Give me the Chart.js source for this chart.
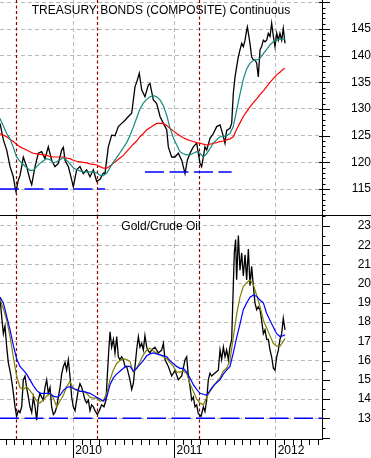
<!DOCTYPE html>
<html>
<head>
<meta charset="utf-8">
<script src="https://cdn.jsdelivr.net/npm/chart.js@4.4.1/dist/chart.umd.min.js"></script>
<style>
html, body { margin: 0; padding: 0; background: #fff; }
#wrap { position: relative; width: 371px; height: 458px; overflow: hidden; background: #fff; }
#c1 { position: absolute; left: 0; top: 0; }
#c2 { position: absolute; left: 0; top: 216px; }
#divider { position: absolute; left: 0; top: 215px; width: 371px; height: 1px; background: #000; }
</style>
</head>
<body>
<div id="wrap">
  <canvas id="c1" width="371" height="215"></canvas>
  <div id="divider"></div>
  <canvas id="c2" width="371" height="242"></canvas>
</div>
<script>
// ---- time axis for the moving averages (decimal years) ----
const dates = [
  2009.276, 2009.309, 2009.342, 2009.375, 2009.407, 2009.440, 2009.473, 2009.506, 2009.539, 2009.572,
  2009.605, 2009.638, 2009.671, 2009.704, 2009.737, 2009.770, 2009.803, 2009.836, 2009.869, 2009.902,
  2009.934, 2009.967, 2010.000, 2010.033, 2010.066, 2010.099, 2010.132, 2010.165, 2010.198, 2010.231,
  2010.264, 2010.297, 2010.330, 2010.363, 2010.395, 2010.428, 2010.461, 2010.494, 2010.527, 2010.560,
  2010.593, 2010.626, 2010.659, 2010.692, 2010.725, 2010.758, 2010.791, 2010.824, 2010.857, 2010.890,
  2010.923, 2010.955, 2010.988, 2011.021, 2011.054, 2011.087, 2011.120, 2011.153, 2011.186, 2011.219,
  2011.252, 2011.285, 2011.318, 2011.351, 2011.384, 2011.416, 2011.449, 2011.482, 2011.515, 2011.548,
  2011.581, 2011.614, 2011.647, 2011.680, 2011.713, 2011.746, 2011.779, 2011.812, 2011.845, 2011.878,
  2011.911, 2011.943, 2011.976, 2012.009, 2012.042, 2012.075, 2012.092
];

// ---- Treasury bonds (composite) continuous: price ----
const bondPriceDates = [
  2009.276, 2009.309, 2009.342, 2009.375, 2009.407, 2009.424, 2009.434, 2009.457, 2009.473, 2009.490,
  2009.506, 2009.539, 2009.572, 2009.589, 2009.622, 2009.654, 2009.687, 2009.720, 2009.753, 2009.786,
  2009.819, 2009.852, 2009.885, 2009.902, 2009.918, 2009.951, 2009.984, 2010.000, 2010.033, 2010.066,
  2010.099, 2010.132, 2010.165, 2010.198, 2010.231, 2010.264, 2010.297, 2010.313, 2010.346, 2010.379,
  2010.412, 2010.445, 2010.478, 2010.511, 2010.544, 2010.577, 2010.610, 2010.626, 2010.652, 2010.676,
  2010.708, 2010.741, 2010.758, 2010.791, 2010.824, 2010.857, 2010.890, 2010.923, 2010.939, 2010.972,
  2011.005, 2011.038, 2011.071, 2011.104, 2011.127, 2011.153, 2011.186, 2011.219, 2011.252, 2011.268,
  2011.285, 2011.301, 2011.318, 2011.351, 2011.384, 2011.417, 2011.450, 2011.466, 2011.483, 2011.499,
  2011.515, 2011.548, 2011.565, 2011.581, 2011.598, 2011.614, 2011.631, 2011.647, 2011.664, 2011.680,
  2011.697, 2011.713, 2011.720, 2011.730, 2011.746, 2011.762, 2011.779, 2011.795, 2011.812, 2011.828,
  2011.845, 2011.861, 2011.878, 2011.894, 2011.911, 2011.927, 2011.944, 2011.960, 2011.977, 2011.993,
  2012.010, 2012.026, 2012.042, 2012.059, 2012.075, 2012.092
];
const bondPrice = [
  127.3, 124.2, 122.3, 119.2, 117.3, 115.4, 114.5, 116.7, 117.5, 119.2,
  121.0, 119.2, 116.7, 115.8, 119.2, 121.7, 122.0, 120.7, 122.9, 120.4,
  119.2, 119.8, 122.3, 122.8, 120.4, 119.2, 116.7, 115.4, 118.6, 119.2,
  117.9, 118.6, 117.3, 118.6, 116.4, 116.8, 118.0, 117.9, 122.9, 125.1,
  125.0, 126.7, 127.3, 127.9, 128.6, 129.2, 134.2, 135.0, 136.7, 133.6,
  132.3, 134.5, 134.8, 131.7, 131.0, 128.6, 127.3, 126.1, 122.9, 121.0,
  121.0, 121.7, 120.4, 117.9, 120.4, 121.7, 122.9, 123.6, 119.8, 119.2,
  121.0, 122.9, 122.3, 124.5, 125.4, 126.7, 127.0, 126.0, 124.8, 123.6,
  126.0, 126.4, 127.3, 132.9, 136.0, 137.9, 139.8, 141.1, 142.3, 141.7,
  142.9, 144.8, 145.4, 144.2, 142.3, 139.8, 139.2, 139.2, 138.6, 136.0,
  141.1, 141.7, 142.9, 142.6, 142.9, 144.2, 143.6, 146.1, 143.6, 141.7,
  144.2, 142.9, 144.2, 142.9, 145.1, 142.3
];
const bondAvgShort = [
  128.2, 126.8, 125.4, 124.4, 122.8, 121.0, 120.2, 119.6, 119.0, 118.5,
  118.5, 119.2, 119.8, 120.3, 120.7, 120.5, 119.9, 120.1, 120.5, 120.9,
  120.4, 119.7, 119.0, 118.6, 118.4, 118.2, 118.2, 118.2, 118.2, 118.0,
  117.6, 117.5, 118.0, 119.0, 120.0, 120.9, 121.8, 122.7, 123.7, 125.0,
  126.6, 128.3, 130.0, 131.1, 131.8, 132.3, 132.5, 132.3, 131.7, 130.6,
  128.8, 126.5, 124.6, 123.3, 122.0, 121.6, 121.4, 121.4, 121.7, 122.0,
  121.7, 121.0, 121.6, 122.6, 123.6, 124.2, 124.8, 124.8, 125.0, 125.4,
  126.7, 129.8, 132.8, 135.6, 137.5, 138.6, 139.1, 139.2, 139.5, 140.4,
  141.2, 142.0, 142.6, 142.9, 143.1, 143.1, 143.1
];
const bondAvgLong = [
  125.4, 125.1, 124.8, 124.3, 123.9, 123.4, 122.9, 122.6, 122.3, 122.0,
  121.7, 121.6, 121.5, 121.4, 121.3, 121.1, 121.0, 121.0, 121.0, 121.0,
  120.8, 120.7, 120.4, 120.2, 120.1, 120.0, 119.9, 119.7, 119.6, 119.5,
  119.2, 118.9, 118.9, 119.3, 119.8, 120.3, 120.8, 121.3, 122.0, 122.7,
  123.4, 124.0, 124.8, 125.4, 126.1, 126.5, 126.9, 127.3, 127.3, 127.3,
  126.9, 126.4, 125.9, 125.4, 125.0, 124.6, 124.3, 124.1, 123.9, 123.7,
  123.6, 123.4, 123.25, 123.4, 123.6, 123.7, 123.9, 124.0, 124.2, 124.4,
  124.8, 126.2, 127.4, 128.6, 129.5, 130.4, 131.2, 131.9, 132.7, 133.4,
  134.2, 135.0, 135.7, 136.4, 136.9, 137.5, 137.6
];

// ---- Gold / Crude Oil ratio ----
const goldOilDates = [
  2009.276, 2009.292, 2009.309, 2009.325, 2009.342, 2009.358, 2009.381, 2009.401, 2009.424, 2009.440,
  2009.457, 2009.473, 2009.490, 2009.506, 2009.523, 2009.539, 2009.556, 2009.572, 2009.589, 2009.605,
  2009.622, 2009.638, 2009.654, 2009.671, 2009.687, 2009.704, 2009.720, 2009.737, 2009.753, 2009.770,
  2009.786, 2009.803, 2009.819, 2009.836, 2009.852, 2009.869, 2009.885, 2009.902, 2009.918, 2009.934,
  2009.951, 2009.967, 2009.984, 2010.000, 2010.017, 2010.033, 2010.050, 2010.066, 2010.083, 2010.099,
  2010.116, 2010.132, 2010.149, 2010.165, 2010.181, 2010.198, 2010.214, 2010.238, 2010.257, 2010.280,
  2010.303, 2010.323, 2010.336, 2010.349, 2010.363, 2010.379, 2010.396, 2010.412, 2010.429, 2010.445,
  2010.461, 2010.478, 2010.494, 2010.511, 2010.527, 2010.544, 2010.560, 2010.577, 2010.593, 2010.610,
  2010.626, 2010.643, 2010.659, 2010.676, 2010.692, 2010.708, 2010.725, 2010.741, 2010.758, 2010.774,
  2010.807, 2010.840, 2010.873, 2010.890, 2010.906, 2010.939, 2010.972, 2011.005, 2011.038, 2011.071,
  2011.104, 2011.120, 2011.137, 2011.153, 2011.170, 2011.186, 2011.203, 2011.219, 2011.235, 2011.262,
  2011.285, 2011.301, 2011.318, 2011.334, 2011.351, 2011.367, 2011.400, 2011.433, 2011.450, 2011.466,
  2011.483, 2011.499, 2011.515, 2011.532, 2011.548, 2011.565, 2011.581, 2011.591, 2011.604, 2011.614,
  2011.631, 2011.647, 2011.664, 2011.680, 2011.697, 2011.713, 2011.730, 2011.746, 2011.762, 2011.779,
  2011.795, 2011.812, 2011.828, 2011.845, 2011.861, 2011.878, 2011.894, 2011.911, 2011.927, 2011.944,
  2011.960, 2011.977, 2011.993, 2012.010, 2012.026, 2012.042, 2012.059, 2012.075, 2012.092
];
const goldOil = [
  19.25, 18.3, 17.4, 17.8, 16.7, 15.9, 15.3, 14.6, 13.6, 13.1,
  13.4, 13.3, 13.6, 15.0, 15.2, 14.6, 14.1, 13.6, 13.3, 14.1,
  13.6, 12.9, 13.95, 14.3, 14.1, 13.95, 14.6, 15.0, 14.3, 14.6,
  13.6, 13.2, 13.3, 13.6, 14.1, 14.6, 15.3, 15.7, 15.9, 15.5,
  16.05, 15.2, 14.1, 13.6, 13.4, 13.95, 14.5, 14.8, 14.6, 14.3,
  13.95, 13.8, 13.95, 13.4, 13.7, 13.6, 13.4, 13.2, 13.4, 13.7,
  13.6, 13.95, 15.2, 16.4, 17.5, 16.7, 17.1, 16.4, 17.25, 16.2,
  16.05, 16.2, 16.05, 15.7, 15.7, 15.35, 15.0, 14.5, 14.8, 15.7,
  16.55, 17.25, 16.7, 16.9, 16.55, 17.3, 16.7, 16.5, 16.4, 16.55,
  16.7, 16.4, 16.55, 16.9, 16.05, 15.7, 15.2, 15.5, 15.0, 15.2,
  16.05, 16.2, 15.2, 14.65, 13.95, 14.1, 13.6, 13.7, 13.25, 13.1,
  13.6, 13.35, 13.95, 15.0, 15.35, 15.2, 15.35, 15.5, 16.55, 16.05,
  16.7, 16.2, 16.55, 16.05, 16.7, 17.1, 19.9, 21.6, 22.3, 20.2,
  22.5, 20.7, 21.6, 20.4, 21.5, 20.2, 21.8, 19.9, 20.9, 19.9,
  19.0, 18.65, 18.8, 18.65, 18.1, 17.4, 17.6, 17.1, 17.1, 16.55,
  16.2, 15.6, 15.5, 16.2, 16.55, 17.1, 17.4, 18.2, 17.6
];
const goldOilAvgShort = [
  19.2, 18.7, 18.1, 17.25, 16.2, 15.2, 14.6, 14.5, 14.65, 14.45,
  14.2, 13.9, 13.8, 13.95, 14.15, 14.3, 14.05, 13.6, 13.9, 14.2,
  14.65, 14.9, 14.55, 14.45, 14.4, 14.4, 14.3, 14.1, 14.05, 14.05,
  13.9, 13.92, 14.3, 15.0, 15.5, 15.85, 16.0, 16.1, 16.05, 15.95,
  15.4, 15.6, 15.95, 16.3, 16.55, 16.65, 16.5, 16.4, 16.3, 16.2,
  16.1, 15.9, 15.7, 15.4, 15.4, 15.45, 15.35, 14.8, 14.4, 14.0,
  13.8, 13.7, 14.1, 14.4, 14.65, 14.9, 15.1, 15.45, 15.6, 16.0,
  17.2, 18.4, 19.3, 19.85, 20.05, 20.2, 19.95, 19.4, 18.8, 18.1,
  17.7, 17.3, 16.9, 16.75, 16.75, 17.0, 17.15
];
const goldOilAvgLong = [
  19.3, 19.0, 18.3, 17.6, 16.8, 16.1, 15.7, 15.5, 15.3, 15.0,
  14.7, 14.45, 14.3, 14.3, 14.3, 14.3, 14.15, 14.1, 14.2, 14.45,
  14.6, 14.65, 14.55, 14.5, 14.4, 14.4, 14.35, 14.3, 14.2, 14.1,
  14.0, 13.9, 14.1, 14.75, 15.1, 15.3, 15.45, 15.6, 15.7, 15.7,
  15.45, 15.6, 15.8, 16.0, 16.25, 16.35, 16.4, 16.35, 16.3, 16.25,
  16.2, 16.0, 15.85, 15.7, 15.6, 15.6, 15.4, 15.1, 14.75, 14.5,
  14.3, 14.25, 14.2, 14.45, 14.7, 14.85, 15.0, 15.3, 15.5, 15.7,
  16.4, 17.2, 17.9, 18.65, 19.0, 19.3, 19.4, 19.35, 19.15, 19.0,
  18.45, 18.1, 17.75, 17.4, 17.25, 17.3, 17.35
];

// ---- annotations ----
const markerDates = [2009.437, 2010.237, 2011.245];           // dotted dark-red verticals
const bondSupportStart = [2009.2757, 2010.708];
const bondSupportEnd   = [2010.313, 2011.565];
const bondSupportLevel = [115, 118.2];
const ratioSupportStart = [2009.2757];
const ratioSupportEnd   = [2012.4575];
const ratioSupportLevel = [13];

// ---- texts and axis labels ----
const topTitle = 'TREASURY BONDS (COMPOSITE) Continuous';
const bottomTitle = 'Gold/Crude Oil';
const bondTickLabels = [115, 120, 125, 130, 135, 140, 145];
const ratioTickLabels = [13, 14, 15, 16, 17, 18, 19, 20, 21, 22, 23];
const yearLabels = ['2010', '2011', '2012'];

// ---- layout constants ----
const X_MIN = 2009.2757, X_MAX = 2012.4575;
const FONT = "'Liberation Sans', Arial, sans-serif";
const GRID = '#b9b9b9';

function series(xs, ys) { return ys.map((v, i) => ({ x: xs[i], y: v })); }
function segments(starts, ends, levels) {
  return levels.map((lv, i) => ({
    type: 'line',
    data: [{ x: starts[i], y: lv }, { x: ends[i], y: lv }],
    borderColor: '#0000ff', borderWidth: 1.4, borderDash: [19, 5.5],
    pointRadius: 0, order: 0
  }));
}

const markerPlugin = {
  id: 'markers',
  beforeDatasetsDraw(chart) {
    const ctx = chart.ctx, xs = chart.scales.x, a = chart.chartArea;
    ctx.save();
    ctx.strokeStyle = '#8b0000';
    ctx.lineWidth = 1.2;
    ctx.setLineDash([3, 2.5]);
    markerDates.forEach(d => {
      const px = Math.round(xs.getPixelForValue(d)) + 0.5;
      ctx.beginPath(); ctx.moveTo(px, a.top); ctx.lineTo(px, a.bottom); ctx.stroke();
    });
    ctx.restore();
  }
};

const decorPlugin = {
  id: 'decor',
  afterDraw(chart, args, opts) {
    const ctx = chart.ctx, ys = chart.scales.y, xs = chart.scales.x, a = chart.chartArea;
    ctx.save();
    ctx.strokeStyle = '#000';
    ctx.lineWidth = 1;
    // right axis ticks (major and minor)
    const i0 = Math.ceil(ys.min / opts.minor - 1e-9), i1 = Math.floor(ys.max / opts.minor + 1e-9);
    for (let i = i0; i <= i1; i++) {
      const v = i * opts.minor;
      const r = v / opts.major;
      const major = Math.abs(r - Math.round(r)) < 1e-6;
      const py = Math.round(ys.getPixelForValue(v)) + 0.5;
      ctx.beginPath();
      ctx.moveTo(a.right + (major ? opts.majorLeft : 0), py);
      ctx.lineTo(a.right + (major ? 8 : 3.5), py);
      ctx.stroke();
    }
    // monthly ticks on the time axis
    if (opts.months) {
      const m0 = Math.ceil(X_MIN * 12), m1 = Math.floor(X_MAX * 12);
      for (let m = m0; m <= m1; m++) {
        if (m % 12 === 0) continue;
        const px = Math.round(xs.getPixelForValue(m / 12)) + 0.5;
        ctx.beginPath(); ctx.moveTo(px, a.bottom); ctx.lineTo(px, a.bottom + 6); ctx.stroke();
      }
    }
    // panel title
    ctx.fillStyle = '#000';
    ctx.font = '12px ' + FONT;
    ctx.textAlign = 'center';
    ctx.textBaseline = 'alphabetic';
    ctx.fillText(opts.title, (a.left + a.right) / 2, 14);
    ctx.restore();
  }
};

function resetPad(s) { s.paddingTop = 0; s.paddingBottom = 0; s.paddingLeft = 0; s.paddingRight = 0; }

function makeChart(id, cfg) {
  return new Chart(document.getElementById(id), {
    type: 'line',
    data: { datasets: cfg.datasets },
    options: {
      responsive: false,
      animation: false,
      events: [],
      layout: { padding: 0 },
      plugins: { legend: { display: false }, tooltip: { enabled: false }, title: { display: false },
                 decor: cfg.decor },
      elements: { line: { tension: 0 }, point: { radius: 0 } },
      scales: {
        x: cfg.x,
        y: {
          type: 'linear', position: 'right', min: cfg.yMin, max: cfg.yMax,
          afterFit: s => { s.width = 49; resetPad(s); },
          ticks: {
            stepSize: cfg.yStep, includeBounds: false, crossAlign: 'far', padding: cfg.yPad,
            color: '#000', font: { family: FONT, size: 12 },
            callback: v => cfg.yLabels.includes(v) ? String(v) : ''
          },
          grid: { color: ctx => (ctx.tick && cfg.yLabels.concat(cfg.yExtraGrid).includes(ctx.tick.value)) ? GRID : 'rgba(0,0,0,0)', drawTicks: false, lineWidth: 1 },
          border: { display: true, color: '#000', width: 1, dash: [4, 3] }
        }
      }
    },
    plugins: [markerPlugin, decorPlugin]
  });
}

const lineDS = (xs, ys, color, width, order) => ({
  data: series(xs, ys), borderColor: color, borderWidth: width, pointRadius: 0, order: order, fill: false
});

// ---- top panel ----
makeChart('c1', {
  datasets: [
    lineDS(bondPriceDates, bondPrice, '#000000', 1.3, 3),
    lineDS(dates, bondAvgLong, '#ff0000', 1.2, 2),
    lineDS(dates, bondAvgShort, '#138a7e', 1.2, 1),
    ...segments(bondSupportStart, bondSupportEnd, bondSupportLevel)
  ],
  yMin: 110.125, yMax: 150.4375, yStep: 5, yPad: 25,
  yLabels: bondTickLabels, yExtraGrid: [110, 150],
  decor: { minor: 1, major: 5, majorLeft: -3, months: false, title: topTitle },
  x: {
    type: 'linear', position: 'bottom', min: X_MIN, max: X_MAX,
    afterFit: s => { s.height = 0; resetPad(s); },
    ticks: { display: false, stepSize: 1, includeBounds: false },
    grid: { color: GRID, lineWidth: 1, drawTicks: false },
    border: { display: false, dash: [4, 3] }
  }
});

// ---- bottom panel ----
makeChart('c2', {
  datasets: [
    lineDS(goldOilDates, goldOil, '#000000', 1.3, 3),
    lineDS(dates, goldOilAvgShort, '#808000', 1.2, 2),
    lineDS(dates, goldOilAvgLong, '#0000ff', 1.2, 1),
    ...segments(ratioSupportStart, ratioSupportEnd, ratioSupportLevel)
  ],
  yMin: 11.924, yMax: 23.52, yStep: 1, yPad: 31.6,
  yLabels: ratioTickLabels, yExtraGrid: [],
  decor: { minor: 0.5, major: 1, majorLeft: 0, months: true, title: bottomTitle },
  x: {
    type: 'linear', position: 'bottom', min: X_MIN, max: X_MAX,
    afterFit: s => { s.height = 19; resetPad(s); },
    ticks: {
      stepSize: 1, includeBounds: false, align: 'start', labelOffset: 2, padding: -14.5,
      maxRotation: 0, autoSkip: false, color: '#000', font: { family: FONT, size: 12 },
      callback: v => yearLabels.includes(String(v)) ? String(v) : ''
    },
    grid: { color: GRID, lineWidth: 1, drawTicks: true, tickLength: 19, tickColor: '#000', tickWidth: 1 },
    border: { display: true, color: '#000', width: 1, dash: [4, 3] }
  }
});
</script>
</body>
</html>
